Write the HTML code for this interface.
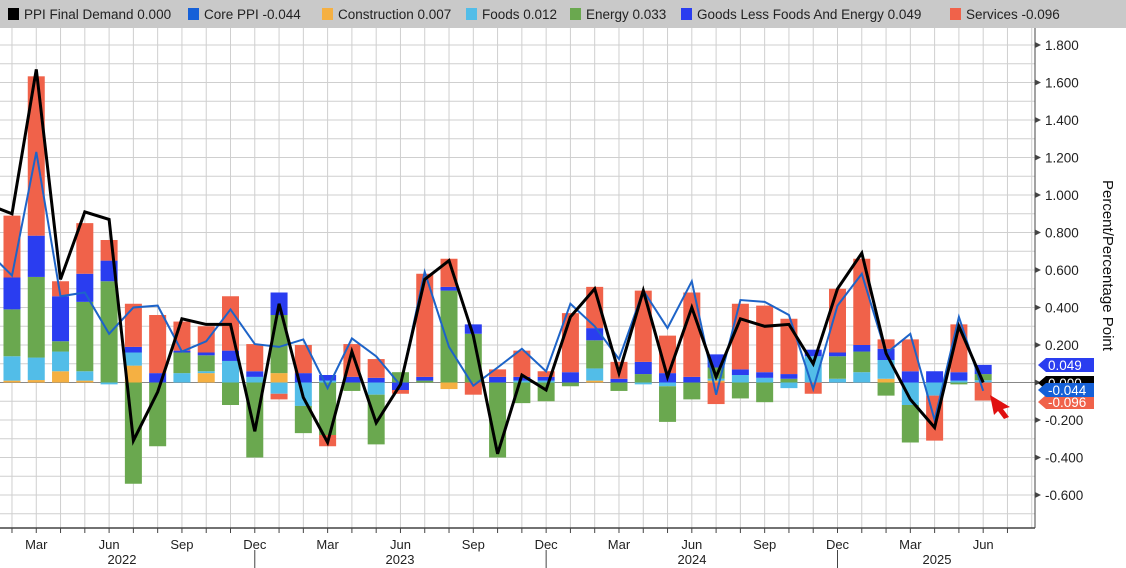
<!DOCTYPE html>
<html><head><meta charset="utf-8">
<style>
body{margin:0;background:#fff;font-family:"Liberation Sans",sans-serif;}
#wrap{position:relative;width:1126px;height:568px;overflow:hidden;background:#fff;}
#legend{position:absolute;left:0;top:0;width:1126px;height:28px;background:#c9c9c9;font-size:13.5px;color:#222;}
.li{position:absolute;top:7px;white-space:nowrap;}
.sw{display:inline-block;width:11px;height:12px;margin-right:5px;vertical-align:-1px;}
</style></head><body>
<div id="wrap">
<div id="legend">
<span class="li" style="left:8px"><span class="sw" style="background:#000"></span>PPI Final Demand 0.000</span>
<span class="li" style="left:188px"><span class="sw" style="background:#1560d8"></span>Core PPI -0.044</span>
<span class="li" style="left:322px"><span class="sw" style="background:#f5b042"></span>Construction 0.007</span>
<span class="li" style="left:466px"><span class="sw" style="background:#52bde8"></span>Foods 0.012</span>
<span class="li" style="left:570px"><span class="sw" style="background:#6aa84f"></span>Energy 0.033</span>
<span class="li" style="left:681px"><span class="sw" style="background:#2a3df0"></span>Goods Less Foods And Energy 0.049</span>
<span class="li" style="left:950px"><span class="sw" style="background:#f0624a"></span>Services -0.096</span>
</div>
<svg id="chart" width="1126" height="568" style="position:absolute;left:0;top:0"></svg>
</div>
<script>
const constr=[.01,.013,.06,.01,0,.09,0,0,.05,0,0,.05,0,0,0,0,0,0,-.035,0,0,0,0,0,.01,0,0,0,0,.01,0,0,0,0,0,0,.02,0,0,0,0,.007];
const foods=[.13,.12,.105,.05,-.01,.07,0,.05,.01,.115,.03,-.06,-.125,.01,0,-.065,0,0,0,0,0,.01,.01,0,.065,0,-.01,-.02,0,.01,.04,.025,-.03,.14,.02,.055,.1,-.12,-.07,.01,.012];
const energy=[.25,.43,.055,.37,.54,-.54,-.34,.11,.085,-.12,-.4,.31,-.145,-.28,-.045,-.265,.055,.01,.49,.26,-.4,-.11,-.1,-.02,.15,-.045,.045,-.19,-.09,.06,-.085,-.105,.02,0,.12,.11,-.07,-.2,0,-.01,.033];
const goods=[.17,.22,.24,.15,.11,.03,.05,.01,.015,.055,.03,.12,.05,.03,.03,.025,-.04,.02,.02,.05,.03,.02,.02,.055,.065,.02,.065,.05,.03,.07,.03,.03,.025,.035,.02,.035,.06,.06,.06,.045,.049];
const services=[.33,.85,.08,.27,.11,.23,.31,.155,.14,.29,.145,-.03,.15,-.06,.175,.1,-.02,.55,.15,-.065,.04,.14,.03,.315,.22,.09,.38,.2,.45,-.115,.35,.355,.295,-.06,.34,.46,.05,.17,-.24,.255,-.096];
const finalDemand=[.95,.9,1.67,.55,.91,.87,-.31,-.05,.34,.31,.31,-.26,.42,-.08,-.32,.165,-.215,-.01,.55,.65,.25,-.38,.04,-.04,.35,.5,.05,.49,.03,.4,.03,.34,.3,.31,.1,.5,.69,.155,-.09,-.24,.3,0];
const corePPI=[.7,.57,1.23,.46,.48,.26,.4,.41,.165,.22,.39,.205,.19,.23,-.03,.235,.14,-.015,.59,.19,-.017,.08,.18,.06,.42,.3,.125,.49,.29,.54,-.065,.44,.43,.36,-.035,.41,.58,.155,.26,-.2,.35,-.044];
const yTicks=[1.8,1.6,1.4,1.2,1.0,0.8,0.6,0.4,0.2,0,-0.2,-0.4,-0.6];
const monthNames=["Jan","Feb","Mar","Apr","May","Jun","Jul","Aug","Sep","Oct","Nov","Dec"];
const years=[2022,2023,2024,2025];

const NS="http://www.w3.org/2000/svg";
const svg=document.getElementById('chart');
const xM=i=>-12.3+i*24.28; // i: month index, Jan 2022 = 0
const yV=v=>382.5-v*187.5;
const AX=1035, BOT=528;
function el(t,a,p){const e=document.createElementNS(NS,t);for(const k in a)e.setAttribute(k,a[k]);(p||svg).appendChild(e);return e;}

// grid
for(let v=-0.7;v<=1.95;v+=0.1){const y=yV(v);if(y<28||y>BOT)continue;
 const g=el('line',{x1:0,x2:AX,y1:y,y2:y,stroke:'#cfcfcf','stroke-width':1});
 
 }
for(let i=0;i<44;i++){const x=xM(i);if(x<0||x>AX)continue;
 const g=el('line',{x1:x,x2:x,y1:28,y2:BOT,stroke:'#cfcfcf','stroke-width':1});
 
 }
const z=el('line',{x1:0,x2:AX,y1:yV(0),y2:yV(0),stroke:'#888','stroke-width':1});



// bars
const series=[[constr,'#f5b042','construction'],[foods,'#52bde8','foods'],[energy,'#6aa84f','energy'],[goods,'#2a3df0','goods'],[services,'#f0624a','services']];
for(let j=0;j<services.length;j++){
 const x=xM(j+1);let pos=0,neg=0;
 for(const [arr,col,nm] of series){const v=arr[j];if(!v)continue;
  let y0,y1;if(v>0){y0=pos;pos+=v;y1=pos;}else{y0=neg;neg+=v;y1=neg;}
  const r=el('rect',{x:x-8.5,width:17,y:Math.min(yV(y0),yV(y1)),height:Math.abs(yV(y1)-yV(y0)),fill:col});
  
  
 }
}
// lines
function line(arr,col,w,nm){const p=arr.map((v,i)=>xM(i).toFixed(1)+','+yV(v).toFixed(1)).join(' ');
 const l=el('polyline',{points:p,fill:'none',stroke:col,'stroke-width':w,'stroke-linejoin':'miter'});
 
 }
line(corePPI,'#1e64c8',2,'core-ppi-line');
line(finalDemand,'#000',3,'final-demand-line');

// axes
const ya=el('line',{x1:AX,x2:AX,y1:28,y2:BOT,stroke:'#444','stroke-width':1});


const xa=el('line',{x1:0,x2:AX,y1:BOT,y2:BOT,stroke:'#444','stroke-width':1.5});


for(const v of yTicks){const y=yV(v);
 el('path',{d:`M${AX} ${y-3}L${AX+6} ${y}L${AX} ${y+3}Z`,fill:'#444'});
 const t=el('text',{x:1045,y:y+5,'font-size':13.5,fill:'#222','font-family':'Liberation Sans, sans-serif'});
 t.textContent=v.toFixed(3);
 
 }
for(let i=1;i<43;i++){const x=xM(i);
 el('line',{x1:x,x2:x,y1:BOT,y2:BOT+5,stroke:'#444'});
 const m=i%12;
 if(m==2||m==5||m==8||m==11){const t=el('text',{x:x,y:549,'text-anchor':'middle','font-size':13,fill:'#222','font-family':'Liberation Sans, sans-serif'});
  t.textContent=monthNames[m];
  
  }
 if(m==11){el('line',{x1:x,x2:x,y1:550,y2:568,stroke:'#444'});}
}
const yc=[122,400,692,937];
years.forEach((yr,k)=>{const t=el('text',{x:yc[k],y:564,'text-anchor':'middle','font-size':13,fill:'#222','font-family':'Liberation Sans, sans-serif'});
 t.textContent=yr;
 
 });
const yt=el('text',{x:0,y:0,'font-size':15,fill:'#111','font-family':'Liberation Sans, sans-serif',transform:'translate(1103,180) rotate(90)'});
yt.textContent='Percent/Percentage Point';



// value tags
function tag(y,col,txt,nm){const g=el('g',{});
 el('path',{d:`M1038 ${y}L1046 ${y-7}L1094 ${y-7}L1094 ${y+7}L1046 ${y+7}Z`,fill:col},g);
 const t=el('text',{x:1048,y:y+5,'font-size':13.5,fill:'#fff','font-family':'Liberation Sans, sans-serif'},g);t.textContent=txt;
 
 }
tag(402,'#f0624a','-0.096','services-value-tag');
tag(383,'#000','0.000','final-demand-value-tag');
tag(365,'#2a3df0','0.049','goods-value-tag');
tag(390,'#1560d8','-0.044','core-value-tag');
const cur=el('path',{d:'M990 395L1010 407L1003 409L1009 417L1004 419L998 411L994 415Z',fill:'#e01010'});


</script>
</body></html>
